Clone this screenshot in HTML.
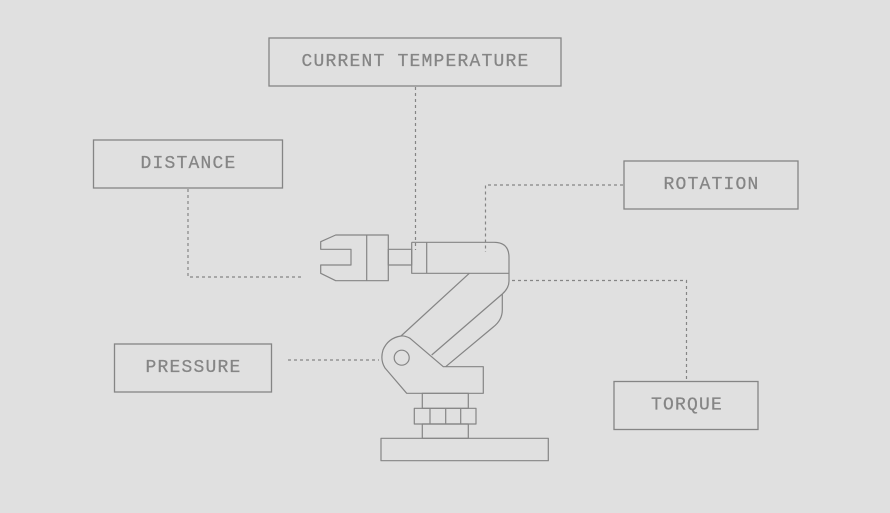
<!DOCTYPE html>
<html><head><style>
html,body{margin:0;padding:0;background:#e0e0e0;}
svg{display:block}
text{font-family:"Liberation Mono","DejaVu Sans Mono",monospace;font-size:18px;letter-spacing:1.2px;fill:#858585;stroke:#858585;stroke-width:0.25;text-anchor:middle;dominant-baseline:central}
</style></head><body>
<svg width="890" height="513" viewBox="0 0 890 513" xmlns="http://www.w3.org/2000/svg">
<rect width="890" height="513" fill="#e0e0e0"/>
<g fill="none" stroke="#858585" stroke-width="1.3">
<rect x="269" y="38" width="292" height="48"/>
<rect x="93.5" y="140" width="189" height="48"/>
<rect x="624" y="161" width="174" height="48"/>
<rect x="114.5" y="344" width="157" height="48"/>
<rect x="614" y="381.5" width="144" height="48"/>
</g>
<g fill="none" stroke="#858585" stroke-width="1.2" stroke-dasharray="3,3">
<path d="M415.5 87 V250"/>
<path d="M188 189 V277 H302"/>
<path d="M623 185 H485.5 V252"/>
<path d="M512 280.5 H686.5 V380"/>
<path d="M288 360 H379"/>
</g>
<g fill="none" stroke="#858585" stroke-width="1.2" stroke-linejoin="round">
<path d="M320.7 241.7 L335.7 235 H388.3 V280.7 H335.7 L320.7 273.3 V265 H351 V249.3 H320.7 Z"/>
<path d="M366.7 235 V280.7"/>
<rect x="388.3" y="249.3" width="23.4" height="15.7"/>
<path d="M411.7 242.3 H494 Q509 242.3 509 257.3 V281 Q509 288 502.3 294 M411.7 242.3 V273.3 H509"/>
<path d="M426.7 242.3 V273.3"/>
<path d="M469.3 273.3 L401 336"/>
<path d="M431.7 355 L502.3 294"/>
<path d="M502.3 294 V310 Q502.3 320 493.3 327 L445.7 366.7"/>
<path d="M401 336 Q388 338 383 350 Q380 360 385 368 L406.7 393.3 H483.3 V366.7 H443.3 L410 338.3 Q405 335.5 401 336 Z"/>
<circle cx="401.7" cy="357.7" r="7.5"/>
<rect x="422.3" y="393.3" width="46" height="15"/>
<rect x="414.3" y="408.3" width="61.7" height="15.7"/>
<path d="M430 408.3 V424 M445.7 408.3 V424 M460.7 408.3 V424"/>
<rect x="422.3" y="424" width="46" height="14.3"/>
<rect x="381" y="438.3" width="167.3" height="22.4"/>
</g>
<text x="415.5" y="62">CURRENT TEMPERATURE</text>
<text x="188.5" y="164">DISTANCE</text>
<text x="711.5" y="185">ROTATION</text>
<text x="193.5" y="368">PRESSURE</text>
<text x="687" y="405.5">TORQUE</text>
</svg>
</body></html>
